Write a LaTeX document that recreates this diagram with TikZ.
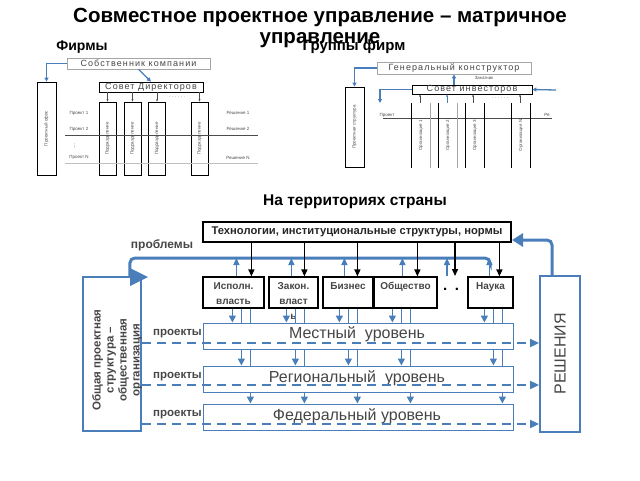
\documentclass[tikz,border=0pt]{standalone}
\usepackage{fontspec}
\setmainfont{Liberation Sans}
\usetikzlibrary{arrows.meta,calc}
\definecolor{bl}{RGB}{74,126,187}
\definecolor{dg}{RGB}{70,70,70}
\begin{document}
\begin{tikzpicture}[x=1pt,y=-1pt,
  ttl/.style={font=\bfseries\fontsize{20.5}{22}\selectfont},
  hdr/.style={font=\bfseries\fontsize{14}{15}\selectfont},
  tiny/.style={font=\fontsize{4.5}{5}\selectfont, text=gray!60!black, inner sep=0},
  sm/.style={font=\fontsize{9}{10}\selectfont\addfontfeatures{LetterSpace=12}, text=dg, inner sep=0},
  gbox/.style={draw=gray!70, line width=0.6pt, inner sep=0},
  kbox/.style={draw=black, line width=0.8pt, inner sep=0},
  sarr/.style={gray!60!black, line width=0.5pt, -{Stealth[length=2.5pt,width=2pt]}},
  barr/.style={bl, line width=1.3pt, -{Triangle[length=4pt,width=4pt]}},
  actor/.style={draw=black, line width=1.2pt, fill=white, inner sep=0},
  atxt/.style={font=\bfseries\fontsize{10}{15}\selectfont, text=dg, align=center, inner sep=0, anchor=north},
  lvl/.style={draw=bl, line width=1pt, fill=white, inner sep=0},
  ltxt/.style={font=\fontsize{16}{18}\selectfont, text=dg, inner sep=0},
  bigbox/.style={draw=bl, line width=1.8pt, fill=white, inner sep=0},
  uparr/.style={bl, line width=1.4pt, -{Triangle[length=7pt,width=6pt]}},
  dnarr/.style={black, line width=1.4pt, -{Triangle[length=7pt,width=6pt]}},
  colarr/.style={bl, line width=1.4pt, -{Triangle[length=7pt,width=7pt]}},
  colln/.style={bl, line width=1.4pt},
  bus/.style={bl, line width=3pt, rounded corners=5pt},
  dsh/.style={bl, line width=1.8pt, dash pattern=on 9pt off 6pt, -{Triangle[length=9pt,width=8pt]}},
  prj/.style={font=\bfseries\fontsize{11.5}{12}\selectfont, text=dg, anchor=east, inner sep=1pt}
]
\useasboundingbox (0,0) rectangle (640,480);

% ---------- title ----------
\node[ttl] (t1) at (320,17) {Совместное проектное управление – матричное};
\node[ttl] (t2) at (320,40) {управление};
\node[hdr] (firms) at (82,47) {Фирмы};
\node[hdr, font=\bfseries\fontsize{15}{16}\selectfont] (groups) at (354,47) {Группы фирм};

% ---------- left small diagram ----------
\node[gbox, minimum width=143, minimum height=11] (own) at (138.5,63.5) {};
\node[sm] (ownt) at (own) {Собственник компании};
\node[kbox, minimum width=104, minimum height=10] (sd) at (151,87) {};
\node[sm] (sdt) at (sd) {Совет Директоров};
\node[kbox, minimum width=19, minimum height=93] (pof) at (46.5,128.5) {};
\node[tiny, rotate=90] (poft) at (pof) {Проектный офис};
\foreach \n/\x in {p1/107.5, p2/132.5, p3/157, p4/199.5}{
  \node[kbox, minimum width=17, minimum height=73] (\n) at (\x,138.5) {};
  \node[tiny, rotate=90] at (\n) {Подразделение};
  \draw[sarr] (sd.south -| \n) -- (\n.north);
}
\draw[barr] (own.west) -| (pof.north);
\draw[barr] (own.south) -- (sd.north);
\node[tiny] (sddots) at (177,97) {. . . . . .};
\node[tiny] (pr1) at (79,113) {Проект 1};
\node[tiny] (pr2) at (79,129) {Проект 2};
\node[tiny, rotate=90] (prd) at (75,146) {....};
\node[tiny] (prn) at (79,157) {Проект N};
\node[tiny] (r1) at (238,113) {Решение 1};
\node[tiny] (r2) at (238,129) {Решение 2};
\node[tiny] (rn) at (238,158) {Решение N};
\coordinate (l1a) at (65,135); \coordinate (l1b) at (258,135);
\coordinate (l2a) at (65,163); \coordinate (l2b) at (258,163);
\draw[gray!60!black, line width=0.6pt] (l1a) -- (l1b);
\draw[gray!50, line width=0.8pt] (l2a) -- (l2b);

% ---------- right small diagram ----------
\node[gbox, minimum width=154, minimum height=12] (gk) at (454,68) {};
\node[sm] (gkt) at (gk) {Генеральный конструктор};
\node[tiny] (zakaz) at (484,78) {Заказчик};
\node[kbox, minimum width=120, minimum height=9] (si) at (472,89.5) {};
\node[sm] (sit) at (si) {Совет инвесторов};
\node[kbox, minimum width=19, minimum height=80] (ps) at (354.5,127) {};
\node[tiny, rotate=90] (pst) at (ps) {Проектная структура};
\draw[barr] (gk.west) -| (ps.north);
\draw[barr] (si.north -| 454,0) -- (gk.south -| 454,0);
\coordinate (siL) at (380,103);
\draw[barr] (si.west) -| (siL);
\coordinate (siR) at (556,90);
\draw[barr] (siR) -- (si.east);
\node[tiny] (projR) at (387,115) {Проект};
\node[tiny] (reR) at (547,115) {Ре};
\coordinate (hA) at (383,118); \coordinate (hB) at (552,118);
\draw[gray!60!black, line width=0.6pt] (hA) -- (hB);
\foreach \n/\x/\t/\ax/\ac in {o1/421/Организация 1/420/gray!60!black, o2/448/Организация 2/447/bl, o3/475/Организация 3/473/gray!60!black, o4/521/Организация N/520/gray!60!black}{
  \node[inner sep=0, minimum width=18, minimum height=65] (\n) at (\x,135.5) {};
  \node[tiny, rotate=90] at (\n) {\t};
  \draw[black, line width=1pt] (\n.north west) -- (\n.south west);
  \draw[\ac, line width=0.6pt, -{Stealth[length=2.5pt,width=2pt]}] (\n.north -| \ax,0) -- (si.south -| \ax,0);
}
\draw[gray!70, line width=0.6pt] (o1.north east) -- (o1.south east);
\draw[gray!70, line width=0.6pt] (o2.north east) -- (o2.south east);
\draw[black, line width=1pt] (o3.north east) -- (o3.south east);
\draw[black, line width=1pt] (o4.north east) -- (o4.south east);
\node[tiny] (sidots) at (500,98) {. . . . . .};

% ---------- main diagram ----------
\node[font=\bfseries\fontsize{15.5}{17}\selectfont] (terr) at (355,202) {На территориях страны};
\node[draw=black, line width=2pt, minimum width=308, minimum height=20, inner sep=0,
  font=\bfseries\fontsize{11.2}{12}\selectfont, text=black!85] (tech) at (357,232) {Технологии, институциональные структуры, нормы};
\node[font=\bfseries\fontsize{12}{13}\selectfont, text=dg] (probl) at (162,245) {проблемы};

\node[actor, minimum width=61, minimum height=31] (isp) at (233.5,292.5) {};
\node[actor, minimum width=49, minimum height=31] (zak) at (293.5,292.5) {};
\node[actor, minimum width=50, minimum height=31] (biz) at (348,292.5) {};
\node[actor, minimum width=63, minimum height=31] (obs) at (405.5,292.5) {};
\node[actor, minimum width=45, minimum height=31] (nau) at (490.5,292.5) {};
\node[atxt] (ispt) at (233.5,282) {Исполн.\\власть};
\node[atxt] (zakt) at (293.5,282) {Закон.\\власт\\ь};
\node[atxt] (bizt) at (348,282) {Бизнес};
\node[atxt] (obst) at (405.5,282) {Общество};
\node[atxt] (naut) at (490.5,282) {Наука};
\node[font=\bfseries\fontsize{15}{15}\selectfont, inner sep=0] (dots) at (451,289) {.\,\,\,.};
\coordinate (dtop) at (451,276);

\node[lvl, minimum width=310, minimum height=26] (mest) at (358,336) {};
\node[lvl, minimum width=310, minimum height=26] (reg) at (358,379) {};
\node[lvl, minimum width=310, minimum height=26] (fed) at (358,417) {};

\node[bigbox, minimum width=58, minimum height=154] (gen) at (112,354) {};
\node[rotate=90, align=center, font=\bfseries\fontsize{11.5}{13}\selectfont, text=dg, inner sep=0] (gent) at (117,360)
  {Общая проектная\\структура –\\общественная\\организация};
\node[bigbox, minimum width=40, minimum height=156] (resh) at (560,354) {};
\node[rotate=90, font=\fontsize{16}{18}\selectfont, text=dg] (resht) at (resh) {РЕШЕНИЯ};

% columns from actors down through levels
\foreach \b/\o in {isp/30, zak/18, biz/17, obs/19, nau/17}{
  \pgfmathsetmacro{\oo}{\o+9}
  \pgfmathsetmacro{\ooo}{\o+18}
  \draw[colarr] ([xshift=\o pt]\b.south west) -- ([xshift=\o pt]\b.south west |- mest.north);
  \draw[colln] ([xshift=\oo pt]\b.south west) -- ([xshift=\oo pt]\b.south west |- mest.north);
  \draw[colarr] ([xshift=\oo pt]\b.south west |- mest.south) -- ([xshift=\oo pt]\b.south west |- reg.north);
  \draw[colln] ([xshift=\ooo pt]\b.south west) -- ([xshift=\ooo pt]\b.south west |- mest.north);
  \draw[colln] ([xshift=\ooo pt]\b.south west |- mest.south) -- ([xshift=\ooo pt]\b.south west |- reg.north);
  \draw[colarr] ([xshift=\ooo pt]\b.south west |- reg.south) -- ([xshift=\ooo pt]\b.south west |- fed.north);
}

% level texts
\node[ltxt] (mestt) at (357,334) {Местный\ \ уровень};
\node[ltxt] (regt) at (357,378) {Региональный\ \ уровень};
\node[ltxt] (fedt) at (357,416) {Федеральный уровень};

% bus of problems
\coordinate (busL) at (129,258);
\coordinate (busR) at (490,258);
\draw[bus] ([xshift=-12pt]gen.north east) |- (busR) -- ([yshift=-4pt]busR);
\fill[bl] (130,268) -- (148,277) -- (130,286) -- cycle;

% up arrows actors -> bus
\foreach \b/\o in {isp/34, zak/23, biz/22, obs/29, nau/22}{
  \draw[uparr] ([xshift=\o pt]\b.north west) -- ([xshift=\o pt]\b.north west |- busL);
}
\draw[uparr] ([xshift=-4pt]dtop) -- ([xshift=-4pt]dtop |- busL);
% down arrows tech -> actors
\foreach \b/\o in {isp/49, zak/36, biz/35, obs/44, nau/32}{
  \draw[dnarr] ([xshift=\o pt]\b.north west |- tech.south) -- ([xshift=\o pt]\b.north west);
}
\draw[dnarr] ([xshift=4pt]dtop |- tech.south) -- ([xshift=4pt]dtop);

% decisions loop
\draw[bus, -{Triangle[length=11pt,width=13pt]}] ([xshift=-8pt]resh.north) |- ([yshift=3pt]tech.south east);

% projects dashed
\node[prj] (pj1) at (203,334) {проекты};
\node[prj] (pj2) at (203,377) {проекты};
\node[prj] (pj3) at (203,415) {проекты};
\draw[dsh] (gen.east |- 0,343) -- (resh.west |- 0,343);
\draw[dsh] (gen.east |- 0,385) -- (resh.west |- 0,385);
\draw[dsh] (gen.east |- 0,424) -- (resh.west |- 0,424);
\end{tikzpicture}
\end{document}
